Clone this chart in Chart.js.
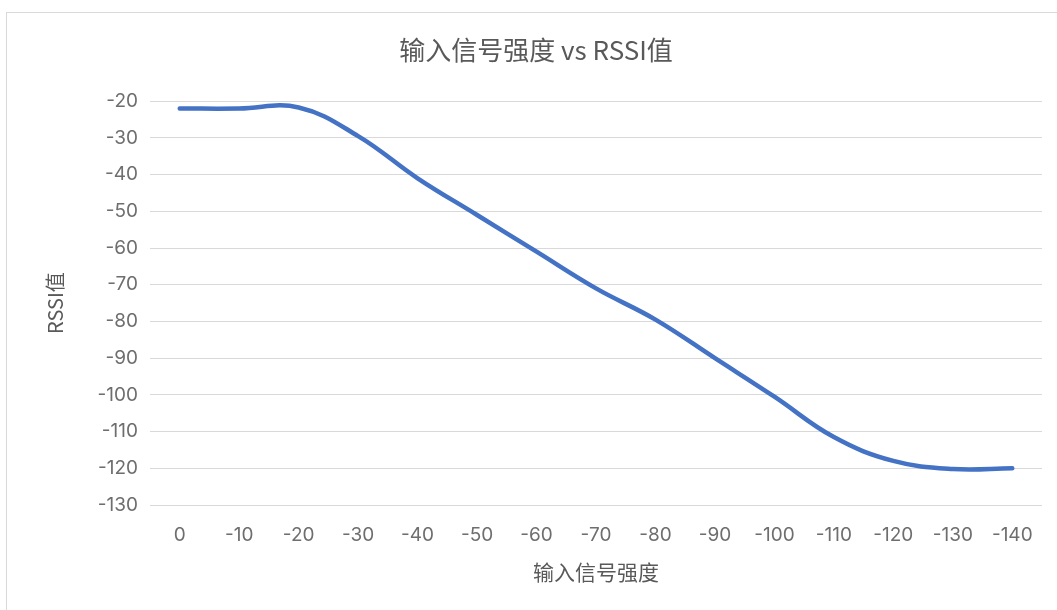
<!DOCTYPE html>
<html>
<head>
<meta charset="utf-8">
<script src="https://cdn.jsdelivr.net/npm/chart.js@4/dist/chart.umd.min.js"></script>
<style>
  html, body { margin: 0; padding: 0; background: #fff; }
  #wrap { position: relative; width: 1057px; height: 610px; overflow: hidden; }
  #frame { position: absolute; left: 6px; top: 12px; width: 1100px; height: 700px; border: 1px solid #d9d9d9; box-sizing: border-box; }
  canvas { position: absolute; left: 0; top: 0; }
</style>
</head>
<body>
<div id="wrap">
  <div id="frame"></div>
  <canvas id="c" width="1057" height="610"></canvas>
</div>
<script>
const categories = ['0', '-10', '-20', '-30', '-40', '-50', '-60', '-70', '-80', '-90', '-100', '-110', '-120', '-130', '-140'];
const rssiValues = [-22, -22, -21.7, -29.5, -41, -51, -61, -71, -79.5, -90, -100.5, -111.5, -118, -120.2, -120];
const yMin = -130;
const yMax = -20;
const yStep = 10;
const chartTitle = '输入信号强度 vs RSSI值';
const xTitle = '输入信号强度';
const yTitle = 'RSSI值';

const CJK = '"Noto Sans CJK SC", "Noto Sans", sans-serif';
const NUM = 'Inter, "Noto Sans CJK SC", sans-serif';

new Chart(document.getElementById('c'), {
  type: 'line',
  data: {
    labels: categories,
    datasets: [{
      label: yTitle,
      data: rssiValues,
      borderColor: '#4472C4',
      borderWidth: 4.5,
      pointRadius: 0,
      tension: 0.4,
      borderCapStyle: 'round',
      fill: false
    }]
  },
  options: {
    responsive: false,
    animation: false,
    layout: { padding: { left: 30, right: 15, top: 12, bottom: 15 } },
    plugins: {
      legend: { display: false },
      tooltip: { enabled: false },
      title: {
        display: true,
        text: chartTitle,
        color: '#595959',
        font: { family: CJK, size: 26, weight: 'normal' },
        padding: { top: 23, bottom: 35 }
      }
    },
    scales: {
      x: {
        offset: true,
        grid: { display: false, drawTicks: false },
        border: { display: false },
        ticks: { color: '#6e6e6e', font: { family: NUM, size: 19 }, padding: 19, maxRotation: 0, autoSkip: false },
        title: { display: true, text: xTitle, color: '#595959', font: { family: CJK, size: 21 }, padding: { top: 4, bottom: 10 } },
        afterFit: (s) => { s.height = 90; }
      },
      y: {
        min: yMin,
        max: yMax,
        grid: { color: '#d9d9d9', lineWidth: 1, drawTicks: false },
        border: { display: false },
        ticks: { stepSize: yStep, color: '#6e6e6e', font: { family: NUM, size: 19 }, padding: 12 },
        title: { display: true, text: yTitle, color: '#595959', font: { family: CJK, size: 20 }, padding: { top: 13, bottom: 4 } },
        afterFit: (s) => { s.width = 120; }
      }
    }
  }
});
</script>
</body>
</html>
